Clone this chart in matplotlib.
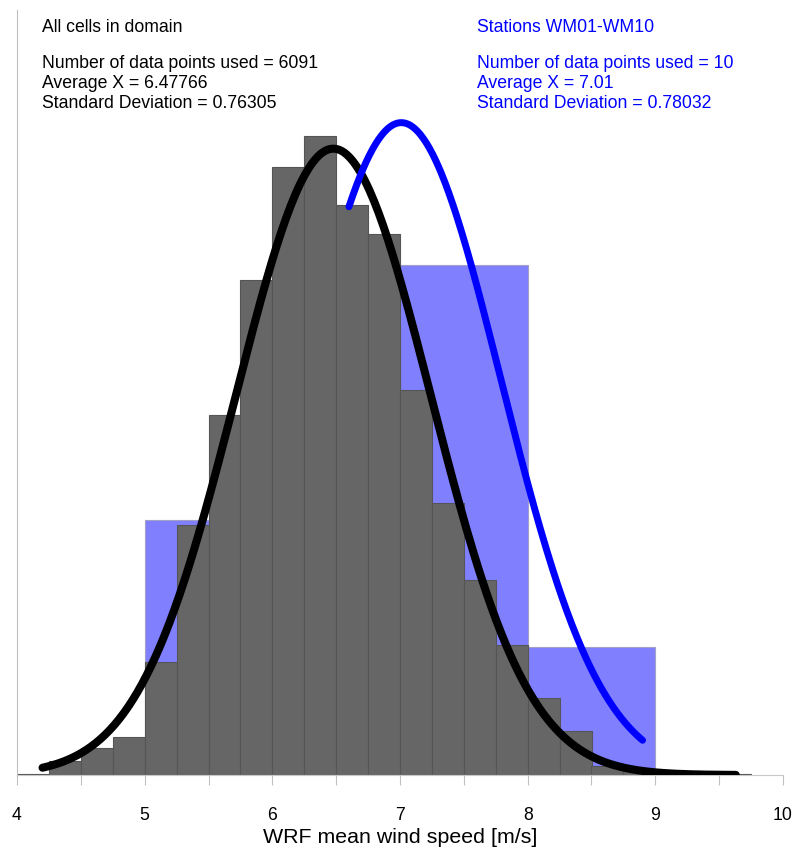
import numpy as np
import matplotlib
matplotlib.use("Agg")
import matplotlib.pyplot as plt

plt.rcParams["font.family"] = ["Liberation Sans", "DejaVu Sans"]

# ── Data ──────────────────────────────────────────────────────────────────────
# All cells in domain: 0.25 m/s bins, counts
wrf_edges = [4.0, 4.25, 4.5, 4.75, 5.0, 5.25, 5.5, 5.75, 6.0, 6.25, 6.5, 6.75,
             7.0, 7.25, 7.5, 7.75, 8.0, 8.25, 8.5, 8.75, 9.0, 9.25, 9.5]
wrf_counts = [1, 18, 34, 48, 144, 318, 457, 629, 773, 812, 725, 688,
              490, 346, 248, 165, 98, 56, 12, 6, 2, 0, 1]
wrf_n = 6091
wrf_mean = 6.47766
wrf_std = 0.76305
wrf_range = (4.2, 9.63)

# Stations WM01-WM10: 1 m/s bins
st_edges = [5.0, 6.0, 7.0, 8.0]
st_counts = [2, 3, 4, 1]
st_n = 10
st_mean = 7.01
st_std = 0.78032
st_range = (6.6, 8.9)

WRF_W = 0.25
ST_W = 1.0


def gauss(x, mu, sd):
    return np.exp(-0.5 * ((x - mu) / sd) ** 2) / (sd * np.sqrt(2 * np.pi))


W, H = 796, 848
fig = plt.figure(figsize=(W / 100, H / 100), dpi=100)
ax = fig.add_axes([17 / W, (H - 775) / H, (783 - 17) / W, (775 - 10) / H])
ax_b = ax.twinx()
ax_b.axis("off")

ax.set_xlim(4, 10)
ax.set_ylim(0, 765 / 1198)
ax_b.set_ylim(0, 765 / 1276)

# stations histogram (behind)
st_dens = [c / (st_n * ST_W) for c in st_counts]
ax.bar(st_edges, st_dens, width=ST_W, align="edge", color="#8080ff",
       edgecolor="#a0a0c8", linewidth=0.8, zorder=1,
       transform=ax_b.transData)

# domain histogram
wrf_dens = [c / (wrf_n * WRF_W) for c in wrf_counts]
ax.bar(wrf_edges, wrf_dens, width=WRF_W, align="edge", color="#666666",
       edgecolor="#555555", linewidth=0.8, zorder=2)

# fitted normal curves
xb = np.linspace(*wrf_range, 300)
ax.plot(xb, gauss(xb, wrf_mean, wrf_std), color="black", lw=5.8,
        solid_capstyle="round", zorder=3)
xs = np.linspace(*st_range, 300)
ax.plot(xs, gauss(xs, st_mean, st_std), color="#0000ff", lw=5.0,
        solid_capstyle="round", zorder=4, transform=ax_b.transData)

# axes styling
for s in ("top", "right"):
    ax.spines[s].set_visible(False)
ax.spines["left"].set_color("#c0c0c0")
ax.spines["bottom"].set_color("#c8c8c8")
ax.set_yticks([])
ticks = np.arange(4, 10.01, 0.5)
ax.set_xticks(ticks)
ax.set_xticklabels([f"{t:g}" if t == int(t) else "" for t in ticks])
ax.tick_params(axis="x", direction="out", length=7.2, color="#c0c0c0",
               labelsize=12.7, pad=16)
ax.set_xlabel("WRF mean wind speed [m/s]", fontsize=15.4, labelpad=3)

# annotation blocks
def block(x, lines, color):
    ys = [31.7, 68.3, 88.0, 107.7]
    for y, t in zip(ys, lines):
        fig.text(x / W, 1 - y / H, t, color=color, fontsize=12.7,
                 ha="left", va="baseline")


block(42, ["All cells in domain",
           f"Number of data points used = {wrf_n}",
           f"Average X = {wrf_mean}",
           f"Standard Deviation = {wrf_std}"], "black")
block(477, ["Stations WM01-WM10",
            f"Number of data points used = {st_n}",
            f"Average X = {st_mean}",
            f"Standard Deviation = {st_std}"], "#0000ff")

fig.savefig("out.png", dpi=100)
